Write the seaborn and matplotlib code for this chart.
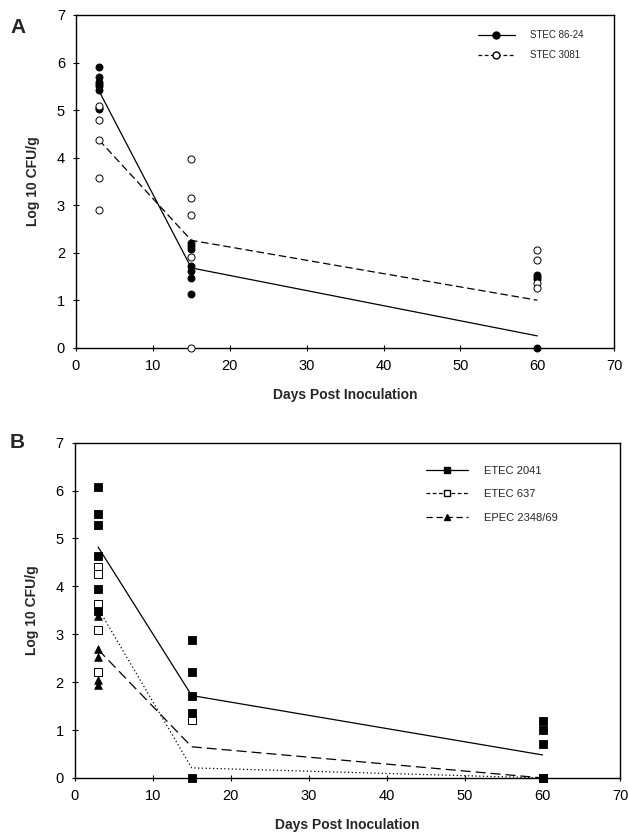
import matplotlib
matplotlib.use('Agg')
import matplotlib.pyplot as plt
import numpy as np
import pandas as pd
import seaborn as sns
from matplotlib.lines import Line2D

# panel A - STEC strains
a_days = [3, 15, 60]
stec8624_pts = {
    3: [5.90, 5.70, 5.60, 5.55, 5.50, 5.42, 5.05, 5.02],
    15: [2.21, 2.15, 2.08, 1.72, 1.61, 1.46, 1.14],
    60: [1.53, 1.49, 1.44, 0.0],
}
stec3081_pts = {
    3: [5.09, 4.80, 4.37, 3.57, 2.89],
    15: [3.98, 3.15, 2.80, 1.91, 0.0],
    60: [2.05, 1.85, 1.36, 1.26],
}
stec8624_mean = [5.40, 1.68, 0.25]
stec3081_mean = [4.37, 2.26, 1.00]

# panel B - ETEC / EPEC strains
b_days = [3, 15, 60]
etec2041_pts = {
    3: [6.08, 5.52, 5.27, 4.64, 3.94, 3.49],
    15: [2.87, 2.21, 1.70, 1.36, 0.0],
    60: [1.18, 1.00, 0.70, 0.0],
}
etec637_pts = {
    3: [4.41, 4.25, 3.63, 3.08, 2.22],
    15: [1.21],
    60: [0.0],
}
epec_pts = {
    3: [3.39, 2.70, 2.52, 2.05, 1.95],
}
etec2041_mean = [4.82, 1.72, 0.48]
etec637_mean = [3.54, 0.21, 0.0]
epec_mean = [2.68, 0.65, 0.0]


def to_df(pts):
    rows = [(d, v) for d, vals in pts.items() for v in vals]
    return pd.DataFrame(rows, columns=['day', 'value'])


sns.set_style('white')
plt.rcParams['font.family'] = ['Liberation Sans', 'DejaVu Sans']

fig = plt.figure(figsize=(6.28, 8.32), dpi=100)
ax_a = fig.add_axes([0.121, 0.582, 0.857, 0.400])
ax_b = fig.add_axes([0.119, 0.065, 0.869, 0.403])


def style_axes(ax):
    ax.set_xlim(0, 70)
    ax.set_ylim(0, 7)
    ax.set_xticks(range(0, 71, 10))
    ax.set_yticks(range(0, 8))
    ax.tick_params(direction='inout', length=4, width=0.8, labelsize=10.5,
                   bottom=True, left=True, colors='black', pad=6)
    for s in ax.spines.values():
        s.set_color('black')
        s.set_linewidth(1.0)
    ax.set_xlabel('Days Post Inoculation', fontsize=10, fontweight='bold', labelpad=11)
    ax.set_ylabel('Log 10 CFU/g', fontsize=10, fontweight='bold', labelpad=12)


# ---- panel A ----
sns.lineplot(x=a_days, y=stec8624_mean, ax=ax_a, color='black', lw=0.9)
sns.lineplot(x=a_days, y=stec3081_mean, ax=ax_a, color='black', lw=0.9,
             linestyle=(0, (6, 3)))
sns.scatterplot(data=to_df(stec8624_pts), x='day', y='value', ax=ax_a, marker='o',
                s=26, color='black', edgecolor='black', linewidth=0.6, zorder=3, clip_on=False)
sns.scatterplot(data=to_df(stec3081_pts), x='day', y='value', ax=ax_a, marker='o',
                s=26, color='white', edgecolor='black', linewidth=0.7, zorder=3, clip_on=False)
style_axes(ax_a)
hA = [
    Line2D([], [], color='black', lw=0.9, marker='o', ms=5, mfc='black', mec='black'),
    Line2D([], [], color='black', lw=0.9, ls=(0, (3, 2)), marker='o', ms=5,
           mfc='white', mec='black'),
]
ax_a.legend(hA, ['STEC 86-24', 'STEC 3081'], loc='upper right', bbox_to_anchor=(0.96, 0.98),
            frameon=False, fontsize=7, handlelength=3.8, numpoints=1, labelspacing=1.0,
            handletextpad=1.6)

# ---- panel B ----
sns.lineplot(x=b_days, y=etec2041_mean, ax=ax_b, color='black', lw=0.9)
sns.lineplot(x=b_days, y=etec637_mean, ax=ax_b, color='black', lw=0.9,
             linestyle=(0, (1, 2)))
sns.lineplot(x=b_days, y=epec_mean, ax=ax_b, color='black', lw=0.9,
             linestyle=(0, (8, 4)))
sns.scatterplot(data=to_df(etec637_pts), x='day', y='value', ax=ax_b, marker='s',
                s=26, color='white', edgecolor='black', linewidth=0.7, zorder=3, clip_on=False)
sns.scatterplot(data=to_df(epec_pts), x='day', y='value', ax=ax_b, marker='^',
                s=30, color='black', edgecolor='black', linewidth=0.6, zorder=3, clip_on=False)
sns.scatterplot(data=to_df(etec2041_pts), x='day', y='value', ax=ax_b, marker='s',
                s=28, color='black', edgecolor='black', linewidth=0.6, zorder=4, clip_on=False)
style_axes(ax_b)
hB = [
    Line2D([], [], color='black', lw=0.9, marker='s', ms=5, mfc='black', mec='black'),
    Line2D([], [], color='black', lw=0.9, ls=(0, (3, 2)), marker='s', ms=5,
           mfc='white', mec='black'),
    Line2D([], [], color='black', lw=0.9, ls=(0, (5, 3)), marker='^', ms=5,
           mfc='black', mec='black'),
]
ax_b.legend(hB, ['ETEC 2041', 'ETEC 637', 'EPEC 2348/69'], loc='upper left',
            bbox_to_anchor=(0.625, 0.96), frameon=False, fontsize=8, handlelength=3.8,
            numpoints=1, labelspacing=1.2, handletextpad=1.4)

fig.text(0.016, 0.978, 'A', fontsize=15, fontweight='bold', va='top')
fig.text(0.016, 0.479, 'B', fontsize=15, fontweight='bold', va='top')

fig.savefig('out.png', dpi=100, facecolor='white')
print('done')
